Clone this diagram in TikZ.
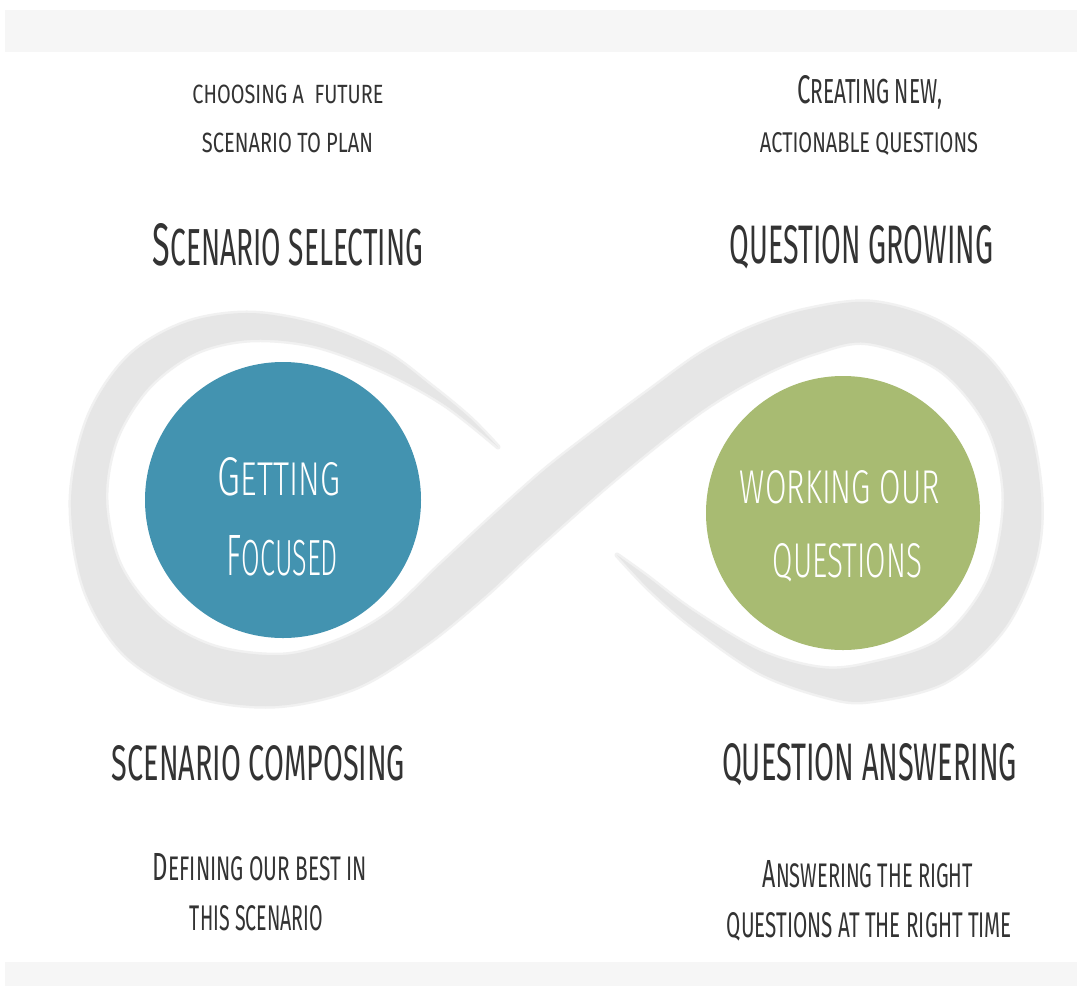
\documentclass[tikz,border=0pt]{standalone}
\usepackage{fontspec}
\usepackage{graphicx}
\newfontfamily\amatic{Fira Sans}
\newfontfamily\amaticlight{Fira Sans Light}
\definecolor{bandgray}{HTML}{E6E6E6}
\definecolor{bandglow}{HTML}{F1F1F1}
\definecolor{bggray}{HTML}{F6F6F6}
\definecolor{focusblue}{HTML}{4393B0}
\definecolor{workgreen}{HTML}{A8BB72}
\definecolor{txtgray}{HTML}{333333}
\newcommand\capA[1]{{\fontsize{11.5}{11.5}\selectfont #1}}
\tikzset{
  lbl/.style={inner sep=0pt, anchor=base, text=txtgray, font=\amatic\fontsize{10}{10}\selectfont},
  inlbl/.style={inner sep=0pt, anchor=base, text=white, font=\amaticlight\fontsize{10}{10}\selectfont},
  hub/.style={circle, inner sep=0pt, minimum size=#1},
}
\begin{document}
\begin{tikzpicture}[x=1pt,y=-1pt]
\useasboundingbox (0,0) rectangle (1077,986);
\fill[white] (0,0) rectangle (1077,986);
\fill[bggray] (5,10) rectangle (1077,52);
\fill[bggray] (5,962) rectangle (1077,986);

% infinity band
\fill[bandgray, preaction={draw=bandglow, line width=5pt, line join=round}]
 plot[smooth, tension=0.55] coordinates {(498,447) (470,418) (430,385) (385,352) (320,325) (250,313) (185,323) (128,357) (88,418) (71,500) (84,588) (125,655) (195,696) (275,706) (355,688) (425,645) (485,596) (540,545) (620,475) (700,412) (760,376) (815,353) (868,343) (940,370) (988,428) (1004,500) (988,580) (940,640) (868,664) (820,668) (760,651) (693,611) (645,575) (617,555)}
 -- plot[smooth, tension=0.55] coordinates {(617,555) (650,590) (693,627) (760,673) (827,697) (870,701) (945,682) (1003,630) (1035,562) (1041,497) (1027,420) (990,360) (935,320) (870,302) (805,310) (750,328) (700,354) (650,390) (600,427) (547,468) (495,514) (440,565) (390,612) (340,640) (283,655) (215,647) (160,617) (120,565) (106,500) (116,440) (148,388) (195,353) (250,340) (315,346) (385,372) (445,405) (498,447)}
 -- cycle;

% hubs
\node[hub=276pt, fill=focusblue] (focus) at (283,500) {};
\node[hub=274pt, fill=workgreen] (work) at (843,513) {};

\node[inlbl] (focus1) at (279,495) {\resizebox{122pt}{38pt}{\capA{G}ETTING}};
\node[inlbl] (focus2) at (282.5,575) {\resizebox{111pt}{40pt}{\capA{F}OCUSED}};
\node[inlbl] (work1) at (840,503) {\resizebox{200pt}{33pt}{WORKING OUR}};
\node[inlbl] (work2) at (847.5,577) {\resizebox{149pt}{34pt}{QUESTIONS}};

% top left
\node[lbl] (tl1) at (288,103) {\resizebox{191pt}{18.5pt}{CHOOSING A\ \ FUTURE}};
\node[lbl] (tl2) at (287.5,152) {\resizebox{171pt}{19.5pt}{SCENARIO TO PLAN}};
\node[lbl] (tlh) at (288,265) {\resizebox{270pt}{42pt}{\capA{S}CENARIO SELECTING}};
% top right
\node[lbl] (tr1) at (869.5,103) {\resizebox{145pt}{28pt}{\capA{C}REATING NEW,}};
\node[lbl] (tr2) at (869,152) {\resizebox{218pt}{20pt}{ACTIONABLE QUESTIONS}};
\node[lbl] (trh) at (861.5,263) {\resizebox{263pt}{38pt}{QUESTION GROWING}};
% bottom left
\node[lbl] (blh) at (258.5,780) {\resizebox{293pt}{35pt}{SCENARIO COMPOSING}};
\node[lbl] (bl1) at (260,880) {\resizebox{214pt}{27pt}{\capA{D}EFINING OUR BEST IN}};
\node[lbl] (bl2) at (256.5,930) {\resizebox{133pt}{25pt}{THIS SCENARIO}};
% bottom right
\node[lbl] (brh) at (869.5,780) {\resizebox{295pt}{37pt}{QUESTION ANSWERING}};
\node[lbl] (br1) at (868,887) {\resizebox{210pt}{27pt}{\capA{A}NSWERING THE RIGHT}};
\node[lbl] (br2) at (869.5,937) {\resizebox{285pt}{25pt}{QUESTIONS AT THE RIGHT TIME}};
\end{tikzpicture}
\end{document}
